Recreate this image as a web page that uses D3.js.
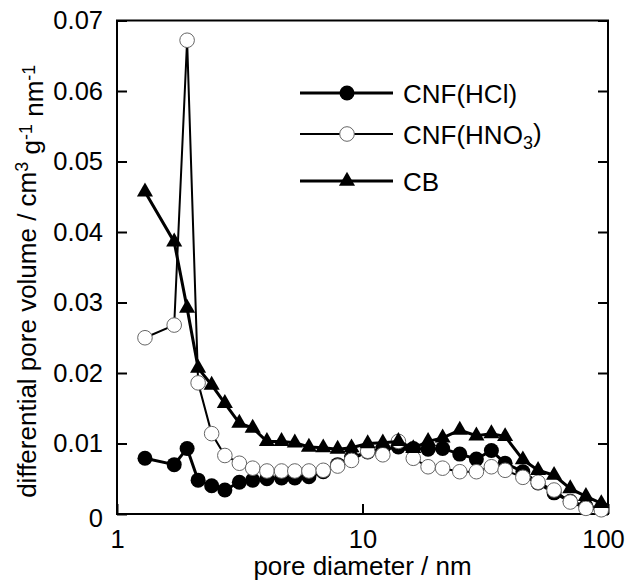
<!DOCTYPE html>
<html>
<head>
<meta charset="utf-8">
<script src="https://cdn.jsdelivr.net/npm/d3@7"></script>
<style>
  body { margin: 0; background: #fff; }
  text { font-family: "Liberation Sans", Arial, sans-serif; fill: #000; }
</style>
</head>
<body>
<div id="chart"></div>
<script>
// pore diameters (nm), shared by all three samples
let diameters = [1.30, 1.71, 1.93, 2.14, 2.43, 2.75, 3.15, 3.57, 4.08, 4.68, 5.30, 6.05, 6.92, 7.92, 9.02,
                 10.5, 12.1, 14.0, 16.1, 18.5, 21.2, 24.9, 29.1, 33.5, 38.1, 45.0, 51.9, 60.3, 70.2, 81.3, 93.9];

let hclValues = [0.0079, 0.0070, 0.0093, 0.0048, 0.0040, 0.0034, 0.0045, 0.0048, 0.0050, 0.0051, 0.0051,
                 0.0053, 0.0060, 0.0070, 0.0080, 0.0088, 0.0092, 0.0095, 0.0093, 0.0092, 0.0093, 0.0085,
                 0.0078, 0.0090, 0.0072, 0.0060, 0.0044, 0.0030, 0.0018, 0.0011, 0.0008];

let hno3Values = [0.0250, 0.0268, 0.0672, 0.0186, 0.0114, 0.0083, 0.0072, 0.0065, 0.0061, 0.0061, 0.0061,
                  0.0061, 0.0062, 0.0068, 0.0076, 0.0089, 0.0084, 0.0103, 0.0079, 0.0067, 0.0065, 0.0060,
                  0.0060, 0.0067, 0.0062, 0.0052, 0.0045, 0.0034, 0.0017, 0.0008, 0.0006];

let cbValues = [0.0457, 0.0386, 0.0292, 0.0207, 0.0183, 0.0157, 0.0129, 0.0122, 0.0103, 0.0103, 0.0101,
                0.0095, 0.0094, 0.0092, 0.0094, 0.0100, 0.0101, 0.0103, 0.0093, 0.0103, 0.0108, 0.0119,
                0.0111, 0.0114, 0.0110, 0.0077, 0.0062, 0.0055, 0.0036, 0.0025, 0.0015];

let xTicks = [1, 10, 100];
let yTicks = [0, 0.01, 0.02, 0.03, 0.04, 0.05, 0.06, 0.07];

//Options
let width = 629;
let height = 583;
let plotLeft = 117, plotRight = 608, plotTop = 20.5, plotBottom = 514;
let tick_len = 10;
let font_size = "25.5px";

let svg = d3.select("#chart").append("svg")
    .attr("width", width)
    .attr("height", height);

svg.append("rect").attr("width", width).attr("height", height).style("fill", "#fff");

let x = d3.scaleLog().domain([1, 100]).range([plotLeft, plotRight]);
let y = d3.scaleLinear().domain([0, 0.07]).range([plotBottom, plotTop]);

let fmtY = d => d === 0 ? "0" : d3.format(".2f")(d);

// axes: ticks pointing inward, labels outside
let y_ax = d3.axisLeft(y).tickValues(yTicks).tickSizeInner(-tick_len).tickSizeOuter(0)
    .tickPadding(14).tickFormat(fmtY);
let y_ax_r = d3.axisRight(y).tickValues(yTicks).tickSizeInner(-tick_len).tickSizeOuter(0)
    .tickFormat("");
let x_ax = d3.axisBottom(x).tickValues(xTicks).tickSizeInner(-tick_len).tickSizeOuter(0)
    .tickPadding(16).tickFormat(d3.format("d"));

function styleAxis(g) {
    g.select(".domain").remove();
    g.selectAll(".tick line").attr("stroke", "#000").attr("stroke-width", 2);
    g.selectAll(".tick text")
        .style("font-size", font_size)
        .style("font-family", "'Liberation Sans', Arial, sans-serif");
}

svg.append("g").attr("transform", `translate(${plotLeft},0)`).call(y_ax).call(styleAxis);
svg.append("g").attr("transform", `translate(${plotRight},0)`).call(y_ax_r).call(styleAxis);
svg.append("g").attr("id", "x_ax").attr("transform", `translate(0,${plotBottom})`).call(x_ax).call(styleAxis);

// first y label sits a bit low, last x label a bit left
svg.selectAll(".tick text").filter(d => d === 0).attr("dy", "0.5em");
d3.select("#x_ax").selectAll(".tick text").filter(d => d === 100).attr("dx", "-5");

// frame (no top ticks)
svg.append("rect")
    .attr("x", plotLeft).attr("y", plotTop)
    .attr("width", plotRight - plotLeft).attr("height", plotBottom - plotTop)
    .style("fill", "none").style("stroke", "#000").style("stroke-width", 2);

// axis titles
svg.append("text")
    .attr("x", (plotLeft + plotRight) / 2).attr("y", 575)
    .attr("text-anchor", "middle")
    .style("font-size", "26px")
    .text("pore diameter / nm");

let yTitle = svg.append("text")
    .attr("transform", `translate(36, ${(plotTop + plotBottom) / 2 + 14}) rotate(-90)`)
    .attr("text-anchor", "middle")
    .style("font-size", "26px");
yTitle.append("tspan").text("differential pore volume / cm");
yTitle.append("tspan").attr("dy", "-0.45em").style("font-size", "18px").text("3");
yTitle.append("tspan").attr("dy", "0.45em").text(" g");
yTitle.append("tspan").attr("dy", "-0.45em").style("font-size", "18px").text("-1");
yTitle.append("tspan").attr("dy", "0.45em").text(" nm");
yTitle.append("tspan").attr("dy", "-0.45em").style("font-size", "18px").text("-1");

// series
let series = [
    {name: "hcl", values: hclValues, line: 3, kind: "filled"},
    {name: "hno3", values: hno3Values, line: 2, kind: "open"},
    {name: "cb", values: cbValues, line: 3, kind: "triangle"}
];

let line = d3.line().x(d => x(d[0])).y(d => y(d[1]));
let tri = d3.symbol().type(d3.symbolTriangle).size(112);

function drawMarker(g, kind) {
    if (kind === "filled") {
        g.append("circle").attr("r", 7.5).style("fill", "#000");
    } else if (kind === "open") {
        g.append("circle").attr("r", 7.3).style("fill", "#fff")
            .style("stroke", "#666").style("stroke-width", 1);
    } else {
        g.append("path").attr("d", tri).style("fill", "#000");
    }
}

series.forEach(s => {
    let pts = diameters.map((d, i) => [d, s.values[i]]);
    let g = svg.append("g").attr("class", "series " + s.name);
    g.append("path")
        .datum(pts)
        .attr("d", line)
        .style("fill", "none")
        .style("stroke", "#000")
        .style("stroke-width", s.line)
        .style("stroke-linejoin", "round");
    g.selectAll("g.pt")
        .data(pts)
        .enter()
        .append("g")
        .attr("class", "pt")
        .attr("transform", d => `translate(${x(d[0])},${y(d[1])})`)
        .each(function() { drawMarker(d3.select(this), s.kind); });
});

// legend
let legendRows = [
    {label: "CNF(HCl)", kind: "filled", line: 3, yPos: 93},
    {label: "CNF(HNO", sub: "3", tail: ")", kind: "open", line: 2, yPos: 134},
    {label: "CB", kind: "triangle", line: 3, yPos: 181}
];

let legend = svg.append("g").attr("id", "legend");
legendRows.forEach(r => {
    let g = legend.append("g").attr("transform", `translate(0,${r.yPos})`);
    g.append("line").attr("x1", 300).attr("x2", 393)
        .style("stroke", "#000").style("stroke-width", r.line);
    let m = g.append("g").attr("transform", "translate(347,0)");
    drawMarker(m, r.kind);
    let t = g.append("text").attr("x", 403).attr("y", 10).style("font-size", "26px");
    t.append("tspan").text(r.label);
    if (r.sub) {
        t.append("tspan").attr("dy", "0.3em").style("font-size", "18px").text(r.sub);
        t.append("tspan").attr("dy", "-0.3em").text(r.tail);
    }
});
</script>
</body>
</html>
